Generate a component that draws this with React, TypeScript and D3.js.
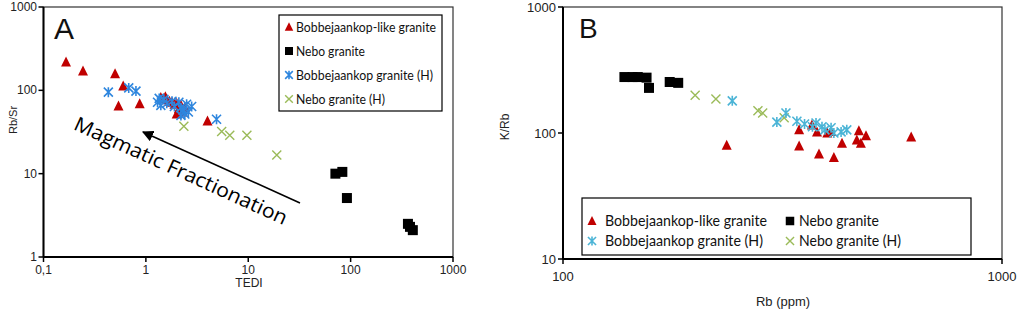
import React from "react";
import * as d3 from "d3";

type P = [number, number];

// Panel A: TEDI vs Rb/Sr
const aRed: P[] = [[0.166, 219], [0.243, 171], [0.5, 158], [0.6, 113], [0.54, 65], [0.87, 69], [1.4, 82], [1.5, 80], [1.6, 77], [1.7, 74], [1.8, 72], [1.9, 68], [2.0, 70], [2.1, 60], [2.2, 66], [2.3, 55], [2.0, 52], [2.4, 62], [1.55, 84], [4.0, 43]];
const aBlue: P[] = [[0.43, 95], [0.68, 107], [0.8, 98], [1.3, 72], [1.4, 66], [1.5, 78], [1.6, 70], [1.8, 74], [1.9, 64], [2.1, 72], [2.2, 62], [2.3, 58], [2.5, 68], [2.6, 55], [2.4, 52], [2.8, 64], [2.2, 50], [1.35, 80], [4.9, 45]];
const aGreen: P[] = [[2.35, 37], [5.5, 32], [6.6, 29], [9.7, 29], [19, 16.7]];
const aBlack: P[] = [[71, 10], [83, 10.5], [92, 5.1], [363, 2.5], [380, 2.3], [405, 2.1]];
const aXTicks = [0.1, 1, 10, 100, 1000];
const aXTickLabels = ["0,1", "1", "10", "100", "1000"];
const aYTicks = [1, 10, 100, 1000];

// Panel B: Rb (ppm) vs K/Rb
const bRed: P[] = [[236, 80], [345, 106], [345, 79], [369, 116], [383, 68], [414, 64], [432, 83], [379, 102], [400, 100], [408, 103], [472, 104], [477, 83], [490, 95], [467, 88], [621, 93]];
const bBlue: P[] = [[243, 180], [307, 122], [322, 144], [341, 124], [377, 120], [370, 112], [408, 110], [430, 102], [443, 106], [389, 112], [414, 100], [355, 118], [395, 106]];
const bGreen: P[] = [[200, 199], [223, 186], [278, 150], [285, 144], [319, 132]];
const bBlack: P[] = [[138, 278], [144, 278], [148, 278], [155, 275], [157, 228], [175, 254], [183, 250]];
const bXTicks = [100, 1000];
const bYTicks = [10, 100, 1000];

const seriesNames = ["Bobbejaankop-like granite", "Nebo granite", "Bobbejaankop granite (H)", "Nebo granite (H)"];

const RED = "#C00000";
const BLUE_A = "#2E86DE";
const BLUE_B = "#4BB4D6";
const GREEN = "#9BBB59";

const tickFont = "'Liberation Sans', Arial, sans-serif";
const legFont = "Lato, 'Open Sans', sans-serif";

function Marker({ kind, x, y, color, s = 1 }: { kind: string; x: number; y: number; color: string; s?: number }) {
  if (kind === "tri") {
    const h = 9 * s, w = 10 * s;
    return <path d={`M${x},${y - h / 2 - 1}L${x + w / 2},${y + h / 2}L${x - w / 2},${y + h / 2}Z`} fill={color} />;
  }
  if (kind === "sq") {
    const w = 10 * s;
    return <rect x={x - w / 2} y={y - w / 2} width={w} height={w} fill={color} />;
  }
  if (kind === "ast") {
    const r = 4.5 * s;
    return (
      <path d={`M${x - r},${y - r}L${x + r},${y + r}M${x - r},${y + r}L${x + r},${y - r}M${x},${y - r - 0.5}L${x},${y + r + 0.5}`} stroke={color} strokeWidth={1.6} fill="none" />
    );
  }
  const r = 4.5 * s;
  return <path d={`M${x - r},${y - r}L${x + r},${y + r}M${x - r},${y + r}L${x + r},${y - r}`} stroke={color} strokeWidth={1.4} fill="none" />;
}

function PanelA() {
  const x = d3.scaleLog().domain([0.1, 1000]).range([43.5, 453]);
  const y = d3.scaleLog().domain([1, 1000]).range([257, 7]);
  const [x0, x1] = x.range();
  const [yb, yt] = y.range();
  const legItems = [
    { kind: "tri", color: RED, len: 140 },
    { kind: "sq", color: "#000", len: 69 },
    { kind: "ast", color: BLUE_A, len: 137 },
    { kind: "x", color: GREEN, len: 89 },
  ];
  return (
    <g>
      <rect x={x0} y={yt} width={x1 - x0} height={yb - yt} fill="none" stroke="#333" strokeWidth={1.2} />
      <line x1={x0} x2={x1} y1={yb} y2={yb} stroke="#000" strokeWidth={2} />
      <line x1={x0} x2={x0} y1={yb} y2={yt} stroke="#000" strokeWidth={2} />
      {aXTicks.map((t, i) => (
        <g key={"ax" + i}>
          <line x1={x(t)} x2={x(t)} y1={yb} y2={yb + 5} stroke="#000" strokeWidth={1.5} />
          <text x={x(t)} y={274} textAnchor="middle" fontFamily={tickFont} fontSize={12} fill="#222">{aXTickLabels[i]}</text>
        </g>
      ))}
      {aYTicks.map((t, i) => (
        <g key={"ay" + i}>
          <line x1={x0 - 5} x2={x0} y1={y(t)} y2={y(t)} stroke="#000" strokeWidth={1.5} />
          <text x={37} y={y(t) + 4} textAnchor="end" fontFamily={tickFont} fontSize={12} fill="#222">{t}</text>
        </g>
      ))}
      <text x={249} y={287} textAnchor="middle" fontFamily={tickFont} fontSize={12} fill="#222">TEDI</text>
      <text transform="translate(17,120) rotate(-90)" textAnchor="middle" fontFamily={tickFont} fontSize={11} fill="#222">Rb/Sr</text>
      <text x={54} y={39} fontFamily={tickFont} fontSize={30} fill="#111">A</text>
      {/* arrow */}
      <defs>
        <marker id="arrA" viewBox="0 0 10 10" refX="9" refY="5" markerWidth="7" markerHeight="7" orient="auto">
          <path d="M0,0L10,5L0,10Z" fill="#000" />
        </marker>
      </defs>
      <line x1={300} y1={203} x2={143} y2={132} stroke="#000" strokeWidth={1.6} markerEnd="url(#arrA)" />
      <text transform="translate(178,177) rotate(24.5)" textAnchor="middle" fontFamily="'Open Sans', sans-serif" fontSize={20} fill="#000" textLength={232} lengthAdjust="spacingAndGlyphs">Magmatic Fractionation</text>
      {aBlack.map((p, i) => <Marker key={"ak" + i} kind="sq" x={x(p[0])} y={y(p[1])} color="#000" />)}
      {aRed.map((p, i) => <Marker key={"ar" + i} kind="tri" x={x(p[0])} y={y(p[1])} color={RED} />)}
      {aBlue.map((p, i) => <Marker key={"ab" + i} kind="ast" x={x(p[0])} y={y(p[1])} color={BLUE_A} />)}
      {aGreen.map((p, i) => <Marker key={"ag" + i} kind="x" x={x(p[0])} y={y(p[1])} color={GREEN} />)}
      {/* legend */}
      <rect x={279} y={15} width={163} height={96} fill="#fff" stroke="#000" strokeWidth={1.2} />
      {legItems.map((it, i) => (
        <g key={"al" + i}>
          <Marker kind={it.kind} x={289} y={27 + i * 24} color={it.color} s={it.kind === "sq" ? 0.8 : 0.85} />
          <text x={296} y={31.5 + i * 24} fontFamily={legFont} fontSize={13} fill="#111" textLength={it.len} lengthAdjust="spacingAndGlyphs">{seriesNames[i]}</text>
        </g>
      ))}
    </g>
  );
}

function PanelB() {
  const x = d3.scaleLog().domain([100, 1000]).range([563, 1002]);
  const y = d3.scaleLog().domain([10, 1000]).range([259, 7]);
  const [x0, x1] = x.range();
  const [yb, yt] = y.range();
  const legItems = [
    { kind: "tri", color: RED, len: 162, lx: 592, tx: 605, row: 0 },
    { kind: "sq", color: "#000", len: 80, lx: 790, tx: 799, row: 0 },
    { kind: "ast", color: BLUE_B, len: 158, lx: 592, tx: 605, row: 1 },
    { kind: "x", color: GREEN, len: 102, lx: 790, tx: 799, row: 1 },
  ];
  return (
    <g>
      <rect x={x0} y={yt} width={x1 - x0} height={yb - yt} fill="none" stroke="#333" strokeWidth={1.2} />
      <line x1={x0} x2={x1} y1={yb} y2={yb} stroke="#000" strokeWidth={2} />
      <line x1={x0} x2={x0} y1={yb} y2={yt} stroke="#000" strokeWidth={2} />
      {bXTicks.map((t, i) => (
        <g key={"bx" + i}>
          <line x1={x(t)} x2={x(t)} y1={yb} y2={yb + 5} stroke="#000" strokeWidth={1.5} />
          <text x={x(t)} y={281} textAnchor="middle" fontFamily={tickFont} fontSize={13} fill="#222">{t}</text>
        </g>
      ))}
      {bYTicks.map((t, i) => (
        <g key={"by" + i}>
          <line x1={x0 - 5} x2={x0} y1={y(t)} y2={y(t)} stroke="#000" strokeWidth={1.5} />
          <text x={556} y={y(t) + 5} textAnchor="end" fontFamily={tickFont} fontSize={13} fill="#222">{t}</text>
        </g>
      ))}
      <text x={783} y={306} textAnchor="middle" fontFamily={tickFont} fontSize={13} fill="#222">Rb (ppm)</text>
      <text transform="translate(509,127) rotate(-90)" textAnchor="middle" fontFamily={tickFont} fontSize={12} fill="#222">K/Rb</text>
      <text x={579} y={38} fontFamily={tickFont} fontSize={28} fill="#111">B</text>
      {bBlack.map((p, i) => <Marker key={"bk" + i} kind="sq" x={x(p[0])} y={y(p[1])} color="#000" />)}
      {bGreen.map((p, i) => <Marker key={"bg" + i} kind="x" x={x(p[0])} y={y(p[1])} color={GREEN} />)}
      {bRed.map((p, i) => <Marker key={"br" + i} kind="tri" x={x(p[0])} y={y(p[1])} color={RED} />)}
      {bBlue.map((p, i) => <Marker key={"bb" + i} kind="ast" x={x(p[0])} y={y(p[1])} color={BLUE_B} />)}
      <rect x={582} y={198} width={389} height={57} fill="#fff" stroke="#000" strokeWidth={1.2} />
      {legItems.map((it, i) => (
        <g key={"bl" + i}>
          <Marker kind={it.kind} x={it.lx} y={221 + it.row * 20} color={it.color} s={it.kind === "sq" ? 0.85 : 0.9} />
          <text x={it.tx} y={226 + it.row * 20} fontFamily={legFont} fontSize={15} fill="#111" textLength={it.len} lengthAdjust="spacingAndGlyphs">{seriesNames[i]}</text>
        </g>
      ))}
    </g>
  );
}

export default function App() {
  return (
    <svg width={1024} height={311} style={{ position: "absolute", left: 0, top: 0, background: "#fff" }}>
      <rect width={1024} height={311} fill="#fff" />
      <PanelA />
      <PanelB />
    </svg>
  );
}
